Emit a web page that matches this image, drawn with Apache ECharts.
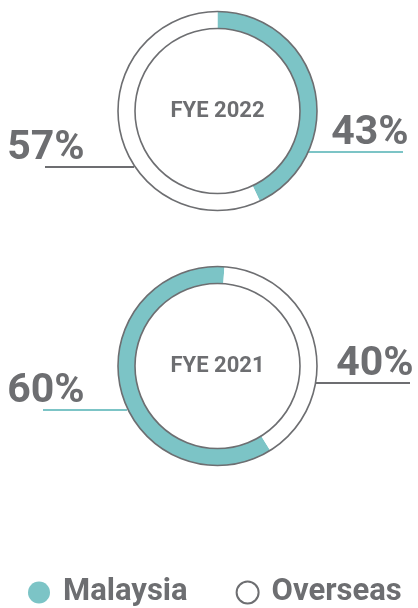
<!DOCTYPE html>
<html>
<head>
<meta charset="utf-8">
<script src="https://cdn.jsdelivr.net/npm/echarts@6/dist/echarts.min.js"></script>
<style>
html,body{margin:0;padding:0;background:#fff;}
#c{width:418px;height:608px;}
</style>
</head>
<body>
<div id="c"></div>
<script>
// ---- data ----
const years = ['FYE 2022', 'FYE 2021'];
const categories = ['Malaysia', 'Overseas'];
const malaysia = [43, 60];
const overseas = [57, 40];

// ---- styles / layout ----
const TEAL = '#7cc4c6';
const GRAY = '#6d6e71';
const FONT = 'Roboto, "Noto Sans", sans-serif';
const centers = [[217.5, 111], [217.5, 366]];
const R_IN = 82.5, R_OUT = 99.5;
const pieStart = [{ startAngle: 90, clockwise: true }, { startAngle: 86, clockwise: false }];
// label placements: [malaysiaLabel, overseasLabel] per pie
const labelPos = [
  [ { tx: 370, ty: 134, line: [[308, 152], [403, 152]] },
    { tx: 46, ty: 149, line: [[45, 167], [134, 167]] } ],
  [ { tx: 46, ty: 392, line: [[43, 410], [127, 410]] },
    { tx: 375, ty: 365, line: [[316, 383], [410, 383]] } ]
];

const series = years.map((y, i) => ({
  type: 'pie',
  name: y,
  center: centers[i],
  radius: [R_IN, R_OUT],
  startAngle: pieStart[i].startAngle,
  clockwise: pieStart[i].clockwise,
  silent: true,
  animation: false,
  label: { show: false },
  labelLine: { show: false },
  emphasis: { scale: false },
  data: [
    { name: categories[0], value: malaysia[i], itemStyle: { color: TEAL } },
    { name: categories[1], value: overseas[i], itemStyle: { color: '#ffffff' } }
  ]
}));

const graphics = [];
years.forEach((y, i) => {
  const [cx, cy] = centers[i];
  graphics.push({ type: 'circle', shape: { cx, cy, r: R_OUT }, style: { fill: 'none', stroke: GRAY, lineWidth: 1.6 }, silent: true, z: 10 });
  graphics.push({ type: 'circle', shape: { cx, cy, r: R_IN }, style: { fill: 'none', stroke: GRAY, lineWidth: 1.6 }, silent: true, z: 10 });
  graphics.push({ type: 'text', x: cx, y: cy, style: { text: y, fill: GRAY, font: 'bold 22px ' + FONT, align: 'center', verticalAlign: 'middle' }, z: 11 });
  const vals = [malaysia[i], overseas[i]];
  const lineCols = [TEAL, GRAY];
  vals.forEach((v, k) => {
    const p = labelPos[i][k];
    graphics.push({ type: 'text', x: p.tx, y: p.ty, style: { text: v + '%', fill: GRAY, font: 'bold 41px ' + FONT, align: 'center', verticalAlign: 'middle' }, z: 11 });
    graphics.push({ type: 'polyline', shape: { points: p.line }, style: { stroke: lineCols[k], lineWidth: 2, fill: 'none' }, silent: true, z: 9 });
  });
});

const chart = echarts.init(document.getElementById('c'), null, { renderer: 'canvas' });
chart.setOption({
  animation: false,
  backgroundColor: '#ffffff',
  legend: {
    left: 23,
    top: 572,
    itemWidth: 22,
    itemHeight: 22,
    itemGap: 48,
    icon: 'circle',
    selectedMode: false,
    textStyle: { color: GRAY, fontSize: 31, fontWeight: 'bold', fontFamily: FONT, padding: [0, 0, 0, 8] },
    data: [
      { name: categories[0], itemStyle: { color: TEAL } },
      { name: categories[1], itemStyle: { color: '#ffffff', borderColor: GRAY, borderWidth: 2 } }
    ]
  },
  series,
  graphic: graphics
});
</script>
</body>
</html>
